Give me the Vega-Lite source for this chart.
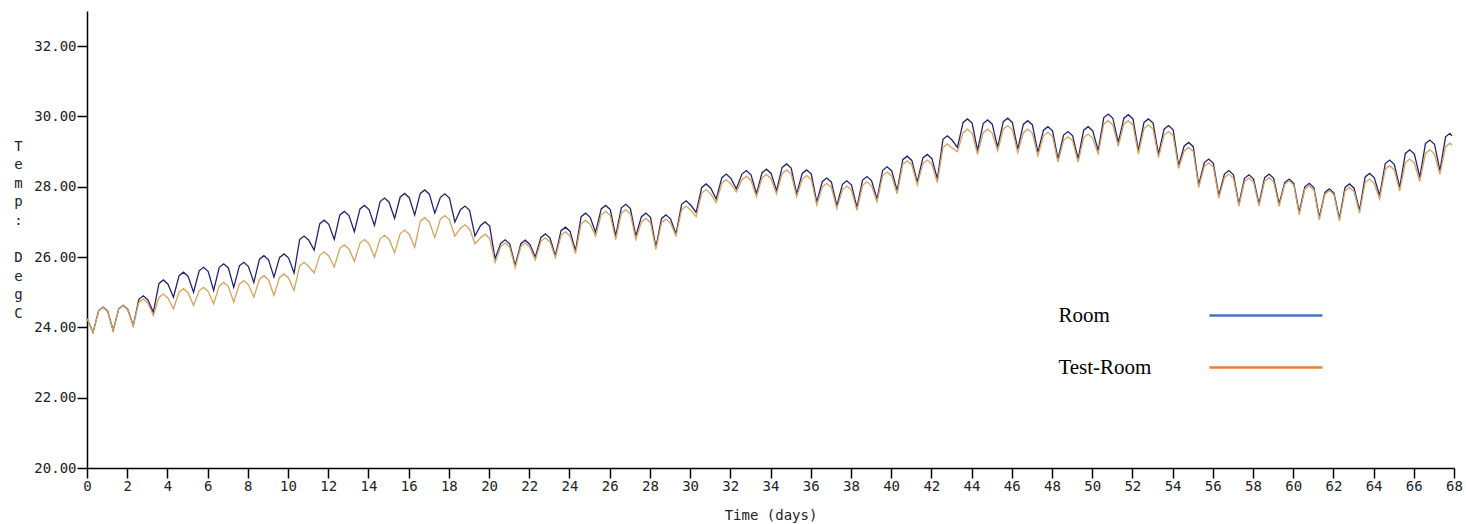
{
  "$schema": "https://vega.github.io/schema/vega-lite/v6.json",
  "autosize": {"type": "none"},
  "padding": {"left": 87, "top": 11, "right": 12, "bottom": 56},
  "width": 1367,
  "height": 457,
  "background": "white",
  "config": {"view": {"stroke": null}},
  "data": {"values": [
{"t":0,"Room":24.25,"Test-Room":24.25},
{"t":0.3,"Room":23.86,"Test-Room":23.86},{"t":0.58,"Room":24.48,"Test-Room":24.47},{"t":0.8,"Room":24.58,"Test-Room":24.57},{"t":1.03,"Room":24.46,"Test-Room":24.45},
{"t":1.3,"Room":23.91,"Test-Room":23.91},{"t":1.58,"Room":24.53,"Test-Room":24.52},{"t":1.8,"Room":24.63,"Test-Room":24.62},{"t":2.03,"Room":24.51,"Test-Room":24.5},
{"t":2.3,"Room":24.05,"Test-Room":24.05},{"t":2.58,"Room":24.8,"Test-Room":24.71},{"t":2.8,"Room":24.9,"Test-Room":24.81},{"t":3.03,"Room":24.78,"Test-Room":24.69},
{"t":3.3,"Room":24.43,"Test-Room":24.34},{"t":3.58,"Room":25.25,"Test-Room":24.85},{"t":3.8,"Room":25.35,"Test-Room":24.95},{"t":4.03,"Room":25.23,"Test-Room":24.83},
{"t":4.3,"Room":24.86,"Test-Room":24.53},{"t":4.58,"Room":25.47,"Test-Room":25.0},{"t":4.8,"Room":25.57,"Test-Room":25.1},{"t":5.03,"Room":25.45,"Test-Room":24.98},
{"t":5.3,"Room":25.0,"Test-Room":24.62},{"t":5.58,"Room":25.61,"Test-Room":25.04},{"t":5.8,"Room":25.71,"Test-Room":25.14},{"t":6.03,"Room":25.59,"Test-Room":25.02},
{"t":6.3,"Room":25.05,"Test-Room":24.67},{"t":6.58,"Room":25.71,"Test-Room":25.18},{"t":6.8,"Room":25.81,"Test-Room":25.28},{"t":7.03,"Room":25.69,"Test-Room":25.16},
{"t":7.3,"Room":25.14,"Test-Room":24.72},{"t":7.58,"Room":25.75,"Test-Room":25.23},{"t":7.8,"Room":25.85,"Test-Room":25.33},{"t":8.03,"Room":25.73,"Test-Room":25.21},
{"t":8.3,"Room":25.28,"Test-Room":24.86},{"t":8.58,"Room":25.94,"Test-Room":25.37},{"t":8.8,"Room":26.04,"Test-Room":25.47},{"t":9.03,"Room":25.92,"Test-Room":25.35},
{"t":9.3,"Room":25.43,"Test-Room":24.91},{"t":9.58,"Room":25.99,"Test-Room":25.42},{"t":9.8,"Room":26.09,"Test-Room":25.52},{"t":10.03,"Room":25.97,"Test-Room":25.4},
{"t":10.3,"Room":25.55,"Test-Room":25.05},{"t":10.58,"Room":26.5,"Test-Room":25.75},{"t":10.8,"Room":26.6,"Test-Room":25.85},{"t":11.03,"Room":26.48,"Test-Room":25.73},
{"t":11.3,"Room":26.2,"Test-Room":25.55},{"t":11.58,"Room":26.95,"Test-Room":26.05},{"t":11.8,"Room":27.05,"Test-Room":26.15},{"t":12.03,"Room":26.93,"Test-Room":26.03},
{"t":12.3,"Room":26.5,"Test-Room":25.72},{"t":12.58,"Room":27.2,"Test-Room":26.25},{"t":12.8,"Room":27.3,"Test-Room":26.35},{"t":13.03,"Room":27.18,"Test-Room":26.23},
{"t":13.3,"Room":26.72,"Test-Room":25.88},{"t":13.58,"Room":27.37,"Test-Room":26.4},{"t":13.8,"Room":27.47,"Test-Room":26.5},{"t":14.03,"Room":27.35,"Test-Room":26.38},
{"t":14.3,"Room":26.9,"Test-Room":26.0},{"t":14.58,"Room":27.58,"Test-Room":26.52},{"t":14.8,"Room":27.68,"Test-Room":26.62},{"t":15.03,"Room":27.56,"Test-Room":26.5},
{"t":15.3,"Room":27.1,"Test-Room":26.12},{"t":15.58,"Room":27.71,"Test-Room":26.67},{"t":15.8,"Room":27.81,"Test-Room":26.77},{"t":16.03,"Room":27.69,"Test-Room":26.65},
{"t":16.3,"Room":27.2,"Test-Room":26.28},{"t":16.58,"Room":27.81,"Test-Room":27.02},{"t":16.8,"Room":27.91,"Test-Room":27.12},{"t":17.03,"Room":27.79,"Test-Room":27.0},
{"t":17.3,"Room":27.25,"Test-Room":26.55},{"t":17.58,"Room":27.7,"Test-Room":27.08},{"t":17.8,"Room":27.8,"Test-Room":27.18},{"t":18.03,"Room":27.68,"Test-Room":27.06},
{"t":18.3,"Room":27.0,"Test-Room":26.6},{"t":18.58,"Room":27.35,"Test-Room":26.82},{"t":18.8,"Room":27.45,"Test-Room":26.92},{"t":19.03,"Room":27.33,"Test-Room":26.8},
{"t":19.3,"Room":26.6,"Test-Room":26.38},{"t":19.58,"Room":26.9,"Test-Room":26.55},{"t":19.8,"Room":27.0,"Test-Room":26.65},{"t":20.03,"Room":26.88,"Test-Room":26.53},
{"t":20.3,"Room":25.95,"Test-Room":25.85},{"t":20.58,"Room":26.39,"Test-Room":26.3},{"t":20.8,"Room":26.49,"Test-Room":26.4},{"t":21.03,"Room":26.37,"Test-Room":26.28},
{"t":21.3,"Room":25.76,"Test-Room":25.7},{"t":21.58,"Room":26.38,"Test-Room":26.3},{"t":21.8,"Room":26.48,"Test-Room":26.4},{"t":22.03,"Room":26.36,"Test-Room":26.28},
{"t":22.3,"Room":26.0,"Test-Room":25.92},{"t":22.58,"Room":26.56,"Test-Room":26.45},{"t":22.8,"Room":26.66,"Test-Room":26.55},{"t":23.03,"Room":26.54,"Test-Room":26.43},
{"t":23.3,"Room":26.04,"Test-Room":25.98},{"t":23.58,"Room":26.75,"Test-Room":26.62},{"t":23.8,"Room":26.85,"Test-Room":26.72},{"t":24.03,"Room":26.73,"Test-Room":26.6},
{"t":24.3,"Room":26.18,"Test-Room":26.1},{"t":24.58,"Room":27.15,"Test-Room":26.95},{"t":24.8,"Room":27.25,"Test-Room":27.05},{"t":25.03,"Room":27.13,"Test-Room":26.93},
{"t":25.3,"Room":26.7,"Test-Room":26.6},{"t":25.58,"Room":27.37,"Test-Room":27.2},{"t":25.8,"Room":27.47,"Test-Room":27.3},{"t":26.03,"Room":27.35,"Test-Room":27.18},
{"t":26.3,"Room":26.6,"Test-Room":26.5},{"t":26.58,"Room":27.4,"Test-Room":27.25},{"t":26.8,"Room":27.5,"Test-Room":27.35},{"t":27.03,"Room":27.38,"Test-Room":27.23},
{"t":27.3,"Room":26.6,"Test-Room":26.5},{"t":27.58,"Room":27.15,"Test-Room":27.0},{"t":27.8,"Room":27.25,"Test-Room":27.1},{"t":28.03,"Room":27.13,"Test-Room":26.98},
{"t":28.3,"Room":26.28,"Test-Room":26.22},{"t":28.58,"Room":27.1,"Test-Room":26.98},{"t":28.8,"Room":27.2,"Test-Room":27.08},{"t":29.03,"Room":27.08,"Test-Room":26.96},
{"t":29.3,"Room":26.66,"Test-Room":26.6},{"t":29.58,"Room":27.5,"Test-Room":27.35},{"t":29.8,"Room":27.6,"Test-Room":27.45},{"t":30.03,"Room":27.48,"Test-Room":27.33},
{"t":30.3,"Room":27.27,"Test-Room":27.15},{"t":30.58,"Room":27.98,"Test-Room":27.82},{"t":30.8,"Room":28.08,"Test-Room":27.92},{"t":31.03,"Room":27.96,"Test-Room":27.8},
{"t":31.3,"Room":27.65,"Test-Room":27.55},{"t":31.58,"Room":28.26,"Test-Room":28.1},{"t":31.8,"Room":28.36,"Test-Room":28.2},{"t":32.03,"Room":28.24,"Test-Room":28.08},
{"t":32.3,"Room":27.94,"Test-Room":27.85},{"t":32.58,"Room":28.36,"Test-Room":28.2},{"t":32.8,"Room":28.46,"Test-Room":28.3},{"t":33.03,"Room":28.34,"Test-Room":28.18},
{"t":33.3,"Room":27.8,"Test-Room":27.72},{"t":33.58,"Room":28.4,"Test-Room":28.25},{"t":33.8,"Room":28.5,"Test-Room":28.35},{"t":34.03,"Room":28.38,"Test-Room":28.23},
{"t":34.3,"Room":27.89,"Test-Room":27.8},{"t":34.58,"Room":28.55,"Test-Room":28.38},{"t":34.8,"Room":28.65,"Test-Room":28.48},{"t":35.03,"Room":28.53,"Test-Room":28.36},
{"t":35.3,"Room":27.8,"Test-Room":27.72},{"t":35.58,"Room":28.38,"Test-Room":28.22},{"t":35.8,"Room":28.48,"Test-Room":28.32},{"t":36.03,"Room":28.36,"Test-Room":28.2},
{"t":36.3,"Room":27.56,"Test-Room":27.48},{"t":36.58,"Room":28.15,"Test-Room":28.0},{"t":36.8,"Room":28.25,"Test-Room":28.1},{"t":37.03,"Room":28.13,"Test-Room":27.98},
{"t":37.3,"Room":27.46,"Test-Room":27.38},{"t":37.58,"Room":28.07,"Test-Room":27.92},{"t":37.8,"Room":28.17,"Test-Room":28.02},{"t":38.03,"Room":28.05,"Test-Room":27.9},
{"t":38.3,"Room":27.41,"Test-Room":27.33},{"t":38.58,"Room":28.19,"Test-Room":28.04},{"t":38.8,"Room":28.29,"Test-Room":28.14},{"t":39.03,"Room":28.17,"Test-Room":28.02},
{"t":39.3,"Room":27.65,"Test-Room":27.57},{"t":39.58,"Room":28.47,"Test-Room":28.32},{"t":39.8,"Room":28.57,"Test-Room":28.42},{"t":40.03,"Room":28.45,"Test-Room":28.3},
{"t":40.3,"Room":27.89,"Test-Room":27.8},{"t":40.58,"Room":28.77,"Test-Room":28.64},{"t":40.8,"Room":28.87,"Test-Room":28.74},{"t":41.03,"Room":28.75,"Test-Room":28.62},
{"t":41.3,"Room":28.13,"Test-Room":28.05},{"t":41.58,"Room":28.82,"Test-Room":28.66},{"t":41.8,"Room":28.92,"Test-Room":28.76},{"t":42.03,"Room":28.8,"Test-Room":28.64},
{"t":42.3,"Room":28.22,"Test-Room":28.12},{"t":42.58,"Room":29.35,"Test-Room":29.12},{"t":42.8,"Room":29.45,"Test-Room":29.22},{"t":43.03,"Room":29.33,"Test-Room":29.1},
{"t":43.3,"Room":29.12,"Test-Room":29.0},{"t":43.58,"Room":29.83,"Test-Room":29.54},{"t":43.8,"Room":29.93,"Test-Room":29.64},{"t":44.03,"Room":29.81,"Test-Room":29.52},
{"t":44.3,"Room":29.03,"Test-Room":28.92},{"t":44.58,"Room":29.8,"Test-Room":29.54},{"t":44.8,"Room":29.9,"Test-Room":29.64},{"t":45.03,"Room":29.78,"Test-Room":29.52},
{"t":45.3,"Room":29.12,"Test-Room":29.02},{"t":45.58,"Room":29.85,"Test-Room":29.64},{"t":45.8,"Room":29.95,"Test-Room":29.74},{"t":46.03,"Room":29.83,"Test-Room":29.62},
{"t":46.3,"Room":29.07,"Test-Room":28.97},{"t":46.58,"Room":29.78,"Test-Room":29.54},{"t":46.8,"Room":29.88,"Test-Room":29.64},{"t":47.03,"Room":29.76,"Test-Room":29.52},
{"t":47.3,"Room":28.98,"Test-Room":28.88},{"t":47.58,"Room":29.61,"Test-Room":29.45},{"t":47.8,"Room":29.71,"Test-Room":29.55},{"t":48.03,"Room":29.59,"Test-Room":29.43},
{"t":48.3,"Room":28.79,"Test-Room":28.7},{"t":48.58,"Room":29.47,"Test-Room":29.32},{"t":48.8,"Room":29.57,"Test-Room":29.42},{"t":49.03,"Room":29.45,"Test-Room":29.3},
{"t":49.3,"Room":28.79,"Test-Room":28.7},{"t":49.58,"Room":29.61,"Test-Room":29.4},{"t":49.8,"Room":29.71,"Test-Room":29.5},{"t":50.03,"Room":29.59,"Test-Room":29.38},
{"t":50.3,"Room":29.03,"Test-Room":28.93},{"t":50.58,"Room":29.97,"Test-Room":29.78},{"t":50.8,"Room":30.07,"Test-Room":29.88},{"t":51.03,"Room":29.95,"Test-Room":29.76},
{"t":51.3,"Room":29.26,"Test-Room":29.15},{"t":51.58,"Room":29.95,"Test-Room":29.78},{"t":51.8,"Room":30.05,"Test-Room":29.88},{"t":52.03,"Room":29.93,"Test-Room":29.76},
{"t":52.3,"Room":29.03,"Test-Room":28.93},{"t":52.58,"Room":29.83,"Test-Room":29.66},{"t":52.8,"Room":29.93,"Test-Room":29.76},{"t":53.03,"Room":29.81,"Test-Room":29.64},
{"t":53.3,"Room":28.93,"Test-Room":28.83},{"t":53.58,"Room":29.64,"Test-Room":29.47},{"t":53.8,"Room":29.74,"Test-Room":29.57},{"t":54.03,"Room":29.62,"Test-Room":29.45},
{"t":54.3,"Room":28.6,"Test-Room":28.52},{"t":54.58,"Room":29.16,"Test-Room":29.02},{"t":54.8,"Room":29.26,"Test-Room":29.12},{"t":55.03,"Room":29.14,"Test-Room":29.0},
{"t":55.3,"Room":28.05,"Test-Room":27.98},{"t":55.58,"Room":28.69,"Test-Room":28.58},{"t":55.8,"Room":28.79,"Test-Room":28.68},{"t":56.03,"Room":28.67,"Test-Room":28.56},
{"t":56.3,"Room":27.75,"Test-Room":27.68},{"t":56.58,"Room":28.36,"Test-Room":28.26},{"t":56.8,"Room":28.46,"Test-Room":28.36},{"t":57.03,"Room":28.34,"Test-Room":28.24},
{"t":57.3,"Room":27.51,"Test-Room":27.45},{"t":57.58,"Room":28.24,"Test-Room":28.15},{"t":57.8,"Room":28.34,"Test-Room":28.25},{"t":58.03,"Room":28.22,"Test-Room":28.13},
{"t":58.3,"Room":27.51,"Test-Room":27.45},{"t":58.58,"Room":28.26,"Test-Room":28.16},{"t":58.8,"Room":28.36,"Test-Room":28.26},{"t":59.03,"Room":28.24,"Test-Room":28.14},
{"t":59.3,"Room":27.51,"Test-Room":27.44},{"t":59.58,"Room":28.12,"Test-Room":28.07},{"t":59.8,"Room":28.22,"Test-Room":28.17},{"t":60.03,"Room":28.1,"Test-Room":28.05},
{"t":60.3,"Room":27.27,"Test-Room":27.2},{"t":60.58,"Room":28.0,"Test-Room":27.93},{"t":60.8,"Room":28.1,"Test-Room":28.03},{"t":61.03,"Room":27.98,"Test-Room":27.91},
{"t":61.3,"Room":27.13,"Test-Room":27.06},{"t":61.58,"Room":27.84,"Test-Room":27.79},{"t":61.8,"Room":27.94,"Test-Room":27.89},{"t":62.03,"Room":27.82,"Test-Room":27.77},
{"t":62.3,"Room":27.09,"Test-Room":27.02},{"t":62.58,"Room":27.98,"Test-Room":27.88},{"t":62.8,"Room":28.08,"Test-Room":27.98},{"t":63.03,"Room":27.96,"Test-Room":27.86},
{"t":63.3,"Room":27.32,"Test-Room":27.25},{"t":63.58,"Room":28.28,"Test-Room":28.12},{"t":63.8,"Room":28.38,"Test-Room":28.22},{"t":64.03,"Room":28.26,"Test-Room":28.1},
{"t":64.3,"Room":27.75,"Test-Room":27.65},{"t":64.58,"Room":28.66,"Test-Room":28.5},{"t":64.8,"Room":28.76,"Test-Room":28.6},{"t":65.03,"Room":28.64,"Test-Room":28.48},
{"t":65.3,"Room":27.98,"Test-Room":27.88},{"t":65.58,"Room":28.95,"Test-Room":28.69},{"t":65.8,"Room":29.05,"Test-Room":28.79},{"t":66.03,"Room":28.93,"Test-Room":28.67},
{"t":66.3,"Room":28.27,"Test-Room":28.15},{"t":66.58,"Room":29.23,"Test-Room":28.95},{"t":66.8,"Room":29.33,"Test-Room":29.05},{"t":67.03,"Room":29.21,"Test-Room":28.93},
{"t":67.3,"Room":28.46,"Test-Room":28.35},{"t":67.58,"Room":29.42,"Test-Room":29.14},{"t":67.8,"Room":29.52,"Test-Room":29.24},{"t":67.9,"Room":29.45,"Test-Room":29.18}
  ]},
  "transform": [{"fold": ["Room", "Test-Room"], "as": ["series", "temp"]}],
  "encoding": {
    "x": {
      "field": "t", "type": "quantitative",
      "scale": {"domain": [0, 68], "nice": false, "zero": false},
      "axis": {
        "title": "Time (days)",
        "values": [0,2,4,6,8,10,12,14,16,18,20,22,24,26,28,30,32,34,36,38,40,42,44,46,48,50,52,54,56,58,60,62,64,66,68],
        "format": "d",
        "grid": false,
        "domainColor": "#000", "domainWidth": 1.5,
        "tickColor": "#000", "tickWidth": 1.5, "tickSize": 10,
        "labelFont": "DejaVu Sans Mono", "labelFontSize": 14, "labelColor": "#222", "labelPadding": 1,
        "labelFlush": false, "labelOverlap": false,
        "titleFont": "DejaVu Sans Mono", "titleFontSize": 14, "titleFontWeight": "normal", "titleColor": "#222", "titlePadding": 15
      }
    },
    "y": {
      "field": "temp", "type": "quantitative",
      "scale": {"domain": [20, 33], "nice": false, "zero": false},
      "axis": {
        "title": ["T", "e", "m", "p", ":", "\u200b", "D", "e", "g", "C"],
        "values": [20, 22, 24, 26, 28, 30, 32],
        "format": ".2f",
        "grid": false,
        "domainColor": "#000", "domainWidth": 1.5,
        "tickColor": "#000", "tickWidth": 1.5, "tickSize": 10,
        "labelFont": "DejaVu Sans Mono", "labelFontSize": 14, "labelColor": "#222", "labelPadding": 1,
        "labelFlush": false, "labelOverlap": false,
        "titleFont": "DejaVu Sans Mono", "titleFontSize": 14, "titleFontWeight": "normal", "titleColor": "#222",
        "titleAngle": 0, "titleAlign": "center", "titleBaseline": "top",
        "titleX": -69, "titleY": 128, "titleLineHeight": 18.6
      }
    }
  },
  "layer": [
    {
      "transform": [{"filter": "datum.series === 'Room'"}],
      "mark": {"type": "line", "strokeWidth": 1.3, "color": "#232370"}
    },
    {
      "transform": [{"filter": "datum.series === 'Test-Room'"}],
      "mark": {"type": "line", "strokeWidth": 1.3, "color": "#d6a35c"}
    },
    {
      "transform": [{"filter": "datum.t < 0"}],
      "mark": {"type": "line", "strokeWidth": 2.5},
      "encoding": {
        "color": {
          "field": "series", "type": "nominal",
          "scale": {"domain": ["Room", "Test-Room"], "range": ["#4472C4", "#ED7D31"]},
          "legend": {
            "title": null,
            "orient": "none",
            "legendX": 1121,
            "legendY": 289,
            "direction": "vertical",
            "padding": 0,
            "symbolType": "M-4,0H4",
            "symbolSize": 798,
            "symbolStrokeWidth": 2.5,
            "symbolOffset": 42.4,
            "labelOffset": -223,
            "labelAlign": "left",
            "labelFont": "Liberation Serif",
            "labelFontSize": 21,
            "labelColor": "#000",
            "labelLimit": 300,
            "rowPadding": 26
          }
        }
      }
    }
  ]
}
